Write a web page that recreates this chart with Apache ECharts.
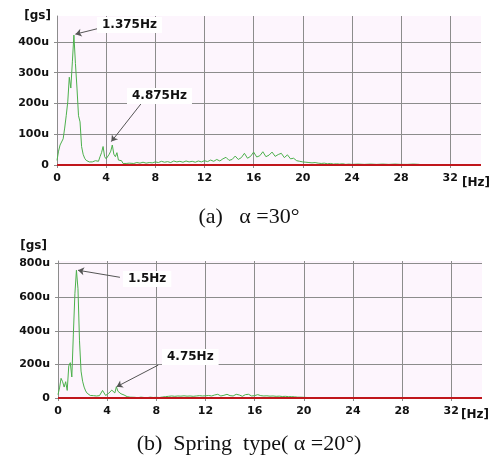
<!DOCTYPE html>
<html>
<head>
<meta charset="utf-8">
<script src="https://cdn.jsdelivr.net/npm/echarts@6/dist/echarts.min.js"></script>
<style>
body{margin:0;background:#fff;}
#chart{width:498px;height:456px;}
</style>
</head>
<body>
<div id="chart"></div>
<script>
// spectrum (a) alpha=30 : [Hz, u gs]
const spectrumA = [
  [0,15],[0.125,45],[0.25,65],[0.375,68],[0.5,85],[0.625,120],[0.75,160],[0.875,205],
  [1,285],[1.125,250],[1.25,335],[1.375,422],[1.5,330],[1.625,250],[1.75,160],[1.875,140],
  [2,60],[2.125,35],[2.25,22],[2.375,15],[2.5,12],[2.625,10],[2.75,8],[2.875,10],
  [3,8],[3.125,14],[3.25,18],[3.375,12],[3.5,27],[3.625,40],[3.75,60],[3.875,27],
  [4,20],[4.125,22],[4.25,35],[4.375,45],[4.5,65],[4.625,35],[4.75,27],[4.875,40],
  [5,16],[5.125,12],[5.25,14],[5.375,5],[5.5,7],[5.625,5],[5.75,8],[5.875,6],[6,7],
  [6.25,5],[6.5,8],[6.75,6],[7,9],[7.25,6],[7.5,8],[7.75,7],[8,10],
  [8.25,8],[8.5,12],[8.75,9],[9,11],[9.25,8],[9.5,13],[9.75,10],[10,12],
  [10.25,9],[10.5,13],[10.75,10],[11,12],[11.25,9],[11.5,13],[11.75,10],[12,14],
  [12.25,11],[12.5,16],[12.75,12],[13,18],[13.25,13],[13.5,20],[13.75,25],[14,15],
  [14.25,18],[14.5,29],[14.75,18],[15,24],[15.25,38],[15.5,22],[15.75,28],[16,42],
  [16.25,26],[16.5,30],[16.75,43],[17,27],[17.25,32],[17.5,42],[17.75,28],[18,34],
  [18.25,38],[18.5,24],[18.75,33],[19,20],[19.25,22],[19.5,14],[19.75,12],[20,10],
  [20.25,9],[20.5,8],[20.75,7],[21,8],[21.25,6],[21.5,5],[21.75,6],[22,4],
  [22.25,5],[22.5,3],[22.75,4],[23,3],[23.25,4],[23.5,2],[23.75,3],[24,2],
  [24.5,3],[25,2],[25.5,3],[26,2],[26.5,3],[27,2],[27.5,3],[28,2],[28.5,2],[29,3],[29.5,2]
];
// spectrum (b) spring type alpha=20
const spectrumB = [
  [0,20],[0.125,60],[0.25,117],[0.375,97],[0.5,65],[0.625,97],[0.75,45],[0.875,190],
  [1,210],[1.125,125],[1.25,380],[1.375,620],[1.5,760],[1.625,650],[1.75,340],[1.875,160],
  [2,100],[2.125,65],[2.25,42],[2.375,28],[2.5,20],[2.625,15],[2.75,12],[2.875,14],
  [3,10],[3.125,12],[3.25,15],[3.375,14],[3.5,25],[3.625,45],[3.75,40],[3.875,15],
  [4,20],[4.125,28],[4.25,30],[4.375,47],[4.5,38],[4.625,30],[4.75,67],[4.875,40],
  [5,35],[5.125,25],[5.25,15],[5.375,18],[5.5,10],[5.625,8],[5.75,6],[5.875,5],[6,4],
  [6.25,4],[6.5,2],[6.75,5],[7,3],[7.25,2],[7.5,5],[7.75,3],[8,4],
  [8.25,3],[8.5,6],[8.75,8],[9,10],[9.25,12],[9.5,10],[9.75,12],[10,11],
  [10.25,13],[10.5,11],[10.75,12],[11,10],[11.25,12],[11.5,14],[11.75,12],[12,13],
  [12.25,15],[12.5,12],[12.75,18],[13,22],[13.25,12],[13.5,16],[13.75,22],[14,14],
  [14.25,12],[14.5,22],[14.75,18],[15,10],[15.25,20],[15.5,22],[15.75,12],[16,14],
  [16.25,20],[16.5,14],[16.75,12],[17,13],[17.25,11],[17.5,12],[17.75,10],[18,11],
  [18.25,9],[18.5,10],[18.75,8],[19,8],[19.25,7],[19.5,5],[19.75,5],[20,4],
  [20.25,3],[20.5,2],[20.75,1],[21,0]
];
const freqMax = 34.5;
const ymaxA = 484, ymaxB = 815;
// peak annotations: [label, arrow tail, arrow head]
const notesA = [['1.375Hz', [3.41, 444], [1.5, 425]], ['4.875Hz', [6.86, 200], [4.42, 76]]];
const notesB = [['1.5Hz', [5.04, 718], [1.63, 760]], ['4.75Hz', [8.16, 196], [4.77, 67]]];

const FONT = 'DejaVu Sans';
const gridCol = '#8c8c8c';

function xAxisOf(i){
  return {
    gridIndex: i, type: 'value', min: 0, max: freqMax, interval: 4,
    axisLine: {show: false},
    axisTick: {show: true, length: 3, lineStyle: {color: gridCol}},
    axisLabel: {fontFamily: FONT, fontWeight: 'bold', fontSize: 11, color: '#111', margin: 8, showMaxLabel: false},
    splitLine: {show: true, showMaxLine: false, lineStyle: {color: gridCol, width: 1}}
  };
}
function yAxisOf(i, max, step, nameGap, padR){
  return {
    gridIndex: i, type: 'value', min: 0, max: max, interval: step,
    name: '[gs]', nameLocation: 'end', nameGap: nameGap,
    nameTextStyle: {fontFamily: FONT, fontWeight: 'bold', fontSize: 12, color: '#111', align: 'right', verticalAlign: 'middle', padding: [0, padR, 0, 0]},
    axisLine: {show: true, lineStyle: {color: gridCol, width: 1}},
    axisTick: {show: true, length: 3, lineStyle: {color: gridCol}},
    axisLabel: {fontFamily: FONT, fontWeight: 'bold', fontSize: 11, color: '#111', margin: 8, showMaxLabel: false,
      formatter: v => v === 0 ? '0' : v + 'u'},
    splitLine: {show: true, showMaxLine: false, lineStyle: {color: gridCol, width: 1}}
  };
}
function arrows(notes){
  return {
    silent: true, animation: false, symbol: ['none', 'arrow'], symbolSize: 6,
    label: {show: false},
    lineStyle: {color: '#555', width: 1, type: 'solid'},
    data: notes.map(n => [{coord: n[1]}, {coord: n[2]}])
  };
}
function spectrum(i, data, notes){
  return {
    type: 'line', xAxisIndex: i, yAxisIndex: i, data: data, showSymbol: false,
    lineStyle: {color: '#4cb04c', width: 1}, z: 2, animation: false,
    markLine: arrows(notes)
  };
}
function zeroLine(i){
  return {
    type: 'line', xAxisIndex: i, yAxisIndex: i, data: [[0, 0], [freqMax, 0]],
    showSymbol: false, silent: true, lineStyle: {color: '#c0161c', width: 2}, z: 3, animation: false
  };
}
function noteText(txt, x, y){
  return {type: 'text', left: x, top: y, z: 10,
    style: {text: txt, font: 'bold 12px "DejaVu Sans"', fill: '#111', backgroundColor: '#fff', padding: [2, 5, 2, 5]}};
}
function unitText(x, y){
  return {type: 'text', left: x, top: y, z: 10,
    style: {text: '[Hz]', font: 'bold 12px "DejaVu Sans"', fill: '#111'}};
}
function caption(txt, y){
  return {type: 'text', left: 'center', top: y, z: 10,
    style: {text: txt, font: '22px "Liberation Serif"', fill: '#111'}};
}

const chart = echarts.init(document.getElementById('chart'));
chart.setOption({
  backgroundColor: '#fff',
  animation: false,
  grid: [
    {left: 57, top: 16, width: 424, height: 149, show: true, backgroundColor: '#fdf5fd', borderWidth: 0},
    {left: 58, top: 261, width: 424, height: 137, show: true, backgroundColor: '#fdf5fd', borderWidth: 0}
  ],
  xAxis: [xAxisOf(0), xAxisOf(1)],
  yAxis: [yAxisOf(0, ymaxA, 100, 0, 6), yAxisOf(1, ymaxB, 200, 15, 11)],
  series: [spectrum(0, spectrumA, notesA), zeroLine(0), spectrum(1, spectrumB, notesB), zeroLine(1)],
  graphic: [
    noteText(notesA[0][0], 97, 17), noteText(notesA[1][0], 127, 88),
    noteText(notesB[0][0], 123, 271), noteText(notesB[1][0], 162, 349),
    unitText(462, 177), unitText(461, 409),
    caption('(a)   α =30°', 206),
    caption('(b)  Spring  type( α =20°)', 433)
  ]
});
</script>
</body>
</html>
